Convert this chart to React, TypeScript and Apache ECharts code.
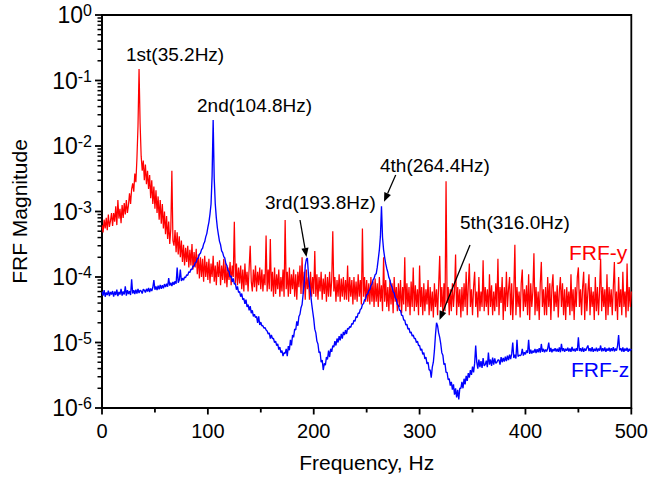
import React, { useEffect, useRef } from "react";
import * as echarts from "echarts";

// FRF magnitude, one value per Hz (index = frequency in Hz)
const frfY = [
  62e-5,48e-5,75e-5,55e-5,80e-5,52e-5,90e-5,58e-5,72e-5,95e-5,
  60e-5,95e-5,70e-5,120e-5,62e-5,150e-5,78e-5,110e-5,66e-5,125e-5,
  80e-5,135e-5,90e-5,150e-5,95e-5,125e-5,190e-5,130e-5,220e-5,270e-5,
  200e-5,380e-5,280e-5,650e-5,2000e-5,15000e-5,2200e-5,700e-5,420e-5,600e-5,
  300e-5,520e-5,260e-5,420e-5,220e-5,360e-5,160e-5,300e-5,130e-5,240e-5,
  110e-5,210e-5,95e-5,170e-5,75e-5,150e-5,65e-5,130e-5,55e-5,100e-5,
  45e-5,85e-5,38e-5,70e-5,32e-5,55e-5,420e-5,36e-5,30e-5,52e-5,
  24e-5,48e-5,22e-5,42e-5,20e-5,36e-5,17e-5,31e-5,15e-5,28e-5,
  17e-5,30e-5,14e-5,26e-5,15e-5,32e-5,13e-5,24e-5,14e-5,27e-5,
  11e-5,22e-5,9.5e-5,20e-5,10e-5,19e-5,8.5e-5,21e-5,10e-5,17e-5,
  9e-5,19e-5,8e-5,16e-5,10e-5,21e-5,8.5e-5,15e-5,7.5e-5,17e-5,
  10e-5,18e-5,7.5e-5,15e-5,9e-5,19e-5,8e-5,16e-5,7e-5,14e-5,
  9e-5,17e-5,7.5e-5,15e-5,10e-5,70e-5,8e-5,16e-5,7.5e-5,14e-5,
  8e-5,15e-5,6.5e-5,13e-5,6e-5,16e-5,7.5e-5,12e-5,6e-5,14e-5,
  30e-5,8.5e-5,6e-5,13e-5,7e-5,15e-5,6e-5,12e-5,7.5e-5,14e-5,
  6.5e-5,13e-5,6e-5,11e-5,7.5e-5,43e-5,6e-5,13e-5,6.5e-5,38e-5,
  6e-5,12e-5,5e-5,14e-5,5.5e-5,11e-5,6.5e-5,13e-5,5e-5,10e-5,
  6e-5,13e-5,5e-5,74e-5,6.5e-5,12e-5,5e-5,14e-5,5.5e-5,11e-5,
  6.5e-5,13e-5,5e-5,11e-5,4.5e-5,12e-5,7e-5,15e-5,5.5e-5,20e-5,
  5.5e-5,12e-5,4.5e-5,13e-5,6.5e-5,10e-5,4.5e-5,12e-5,5e-5,10e-5,
  5.5e-5,25e-5,5e-5,11e-5,4.5e-5,10e-5,6e-5,12e-5,4.5e-5,9.5e-5,
  5.5e-5,11e-5,4.2e-5,10e-5,5e-5,12e-5,5e-5,9e-5,50e-5,6e-5,
  10e-5,4.2e-5,9e-5,5e-5,11e-5,4.2e-5,9.5e-5,5e-5,10e-5,4.5e-5,
  9e-5,4.5e-5,15e-5,4.2e-5,10e-5,5e-5,9e-5,3.8e-5,10e-5,4.5e-5,
  8.5e-5,4.2e-5,11e-5,5e-5,9e-5,3.8e-5,55e-5,5e-5,10e-5,4.2e-5,
  9e-5,4.2e-5,8e-5,3.8e-5,10e-5,4.2e-5,8.5e-5,3.5e-5,9.5e-5,4.2e-5,
  8e-5,3.5e-5,10e-5,4.2e-5,7.5e-5,3e-5,20e-5,4.2e-5,9e-5,3.5e-5,
  7e-5,3e-5,9e-5,3.8e-5,8e-5,2.8e-5,10e-5,4.2e-5,7e-5,3e-5,
  8e-5,3.5e-5,9e-5,2.8e-5,7e-5,3.8e-5,20e-5,3e-5,8e-5,3.5e-5,
  7e-5,2.6e-5,8.5e-5,3.5e-5,14e-5,3e-5,7.5e-5,3.5e-5,6.5e-5,2.6e-5,
  15e-5,3.5e-5,7e-5,2.6e-5,8e-5,3e-5,6.5e-5,3.8e-5,9e-5,2.6e-5,
  7e-5,3e-5,6e-5,2.4e-5,8e-5,3.5e-5,6.5e-5,2.6e-5,7.5e-5,21e-5,
  3.5e-5,7e-5,2.6e-5,8e-5,3e-5,290e-5,4e-5,7e-5,2.6e-5,6.5e-5,
  3e-5,8e-5,3.5e-5,6e-5,22e-5,2.6e-5,7e-5,3.5e-5,6.5e-5,2.4e-5,
  7e-5,3e-5,8e-5,3.5e-5,12e-5,2.6e-5,7.5e-5,16e-5,3.5e-5,6.5e-5,
  2.6e-5,7e-5,12e-5,3.5e-5,6e-5,2.4e-5,10e-5,3e-5,6e-5,3.5e-5,
  18e-5,3e-5,7e-5,3.5e-5,6.5e-5,2.6e-5,11e-5,3.5e-5,7.5e-5,2.6e-5,
  6e-5,3e-5,8e-5,3.5e-5,19e-5,2.6e-5,7e-5,4e-5,10e-5,2.2e-5,
  7e-5,3e-5,12e-5,3.5e-5,6.5e-5,10e-5,2.6e-5,8e-5,2.2e-5,6e-5,
  31e-5,2.6e-5,7e-5,3.5e-5,6e-5,2.4e-5,8e-5,13e-5,3e-5,6.5e-5,
  3.5e-5,7.5e-5,2.6e-5,11e-5,2.2e-5,8e-5,3.5e-5,6e-5,23e-5,2.6e-5,
  7e-5,3e-5,6e-5,2.2e-5,8e-5,17e-5,3.5e-5,6.5e-5,2.6e-5,7e-5,
  2.6e-5,10e-5,3.5e-5,8e-5,2.2e-5,7e-5,11e-5,3e-5,6e-5,3.5e-5,
  7.5e-5,2.4e-5,6e-5,10e-5,3.5e-5,8e-5,2.6e-5,6.5e-5,2.2e-5,7e-5,
  3.5e-5,6e-5,2.6e-5,11e-5,3e-5,6.5e-5,2.2e-5,7e-5,3.5e-5,10e-5,
  14e-5,3.5e-5,6.5e-5,2.6e-5,7e-5,12e-5,2.2e-5,8e-5,3e-5,6e-5,
  11e-5,2.6e-5,7e-5,3.5e-5,6e-5,2.2e-5,10e-5,3e-5,7e-5,2.6e-5,
  6e-5,19e-5,3e-5,7e-5,3.5e-5,6.5e-5,2.2e-5,11e-5,2.6e-5,7e-5,
  3.5e-5,6.5e-5,2.6e-5,7e-5,17e-5,3e-5,6e-5,2.2e-5,10e-5,3.5e-5,
  6.5e-5,2.6e-5,12e-5,3.5e-5,6e-5,2.4e-5,16e-5,3e-5,7e-5,3.5e-5,
  6e-5,
];

const frfZ = [
  60e-6,52e-6,63e-6,50e-6,58e-6,53e-6,62e-6,51e-6,59e-6,54e-6,
  61e-6,50e-6,60e-6,53e-6,64e-6,51e-6,59e-6,54e-6,66e-6,52e-6,
  60e-6,54e-6,72e-6,52e-6,63e-6,55e-6,61e-6,53e-6,92e-6,56e-6,
  63e-6,55e-6,64e-6,56e-6,66e-6,57e-6,63e-6,61e-6,56e-6,65e-6,
  63e-6,58e-6,66e-6,60e-6,68e-6,59e-6,67e-6,61e-6,69e-6,90e-6,
  64e-6,72e-6,63e-6,74e-6,65e-6,76e-6,66e-6,75e-6,67e-6,78e-6,
  70e-6,79e-6,71e-6,96e-6,74e-6,82e-6,73e-6,84e-6,76e-6,86e-6,
  79e-6,140e-6,82e-6,90e-6,130e-6,87e-6,96e-6,89e-6,100e-6,98e-6,
  108e-6,106e-6,120e-6,117e-6,132e-6,130e-6,148e-6,145e-6,165e-6,168e-6,
  190e-6,196e-6,222e-6,230e-6,262e-6,275e-6,318e-6,345e-6,410e-6,460e-6,
  570e-6,690e-6,910e-6,1300e-6,3500e-6,25000e-6,3200e-6,1300e-6,800e-6,560e-6,
  440e-6,350e-6,310e-6,250e-6,235e-6,205e-6,195e-6,160e-6,150e-6,125e-6,
  122e-6,100e-6,104e-6,84e-6,95e-6,78e-6,79e-6,64e-6,72e-6,58e-6,
  60e-6,50e-6,56e-6,45e-6,47e-6,39e-6,45e-6,35e-6,38e-6,31e-6,
  36e-6,28e-6,31e-6,25e-6,27e-6,24e-6,25e-6,20e-6,25e-6,18.5e-6,
  20.5e-6,18e-6,18e-6,16.5e-6,17e-6,15.5e-6,15e-6,13.5e-6,14e-6,11.5e-6,
  13e-6,11.5e-6,11.5e-6,10e-6,10.5e-6,9e-6,9.5e-6,7.8e-6,8.5e-6,7e-6,
  7.5e-6,6.2e-6,7e-6,6.8e-6,8e-6,6.2e-6,8.8e-6,7.6e-6,11e-6,9e-6,
  13e-6,12e-6,16e-6,15.5e-6,21e-6,18e-6,25e-6,27e-6,34e-6,38e-6,
  55e-6,80e-6,150e-6,185e-6,195e-6,110e-6,75e-6,57e-6,40e-6,30e-6,
  23e-6,16e-6,14e-6,10.5e-6,9.5e-6,7e-6,7.2e-6,5e-6,5.4e-6,3.8e-6,
  4.8e-6,4.5e-6,6e-6,5.5e-6,7.5e-6,6e-6,8e-6,7.2e-6,9e-6,8.5e-6,
  10.5e-6,9e-6,11.5e-6,10e-6,12.5e-6,10.8e-6,13.5e-6,11.5e-6,14.5e-6,13e-6,
  15.5e-6,13.5e-6,16.5e-6,16e-6,17.5e-6,17e-6,19.5e-6,19e-6,22e-6,21e-6,
  25e-6,24e-6,28e-6,28e-6,32e-6,33e-6,38e-6,39e-6,45e-6,46e-6,
  54e-6,55e-6,62e-6,64e-6,74e-6,78e-6,90e-6,95e-6,108e-6,112e-6,
  140e-6,190e-6,260e-6,420e-6,1200e-6,400e-6,260e-6,200e-6,160e-6,135e-6,
  118e-6,98e-6,90e-6,76e-6,70e-6,60e-6,57e-6,48e-6,46e-6,38e-6,
  37e-6,31e-6,31e-6,26e-6,26e-6,22e-6,22e-6,18.5e-6,19e-6,16e-6,
  16.5e-6,14e-6,14.5e-6,12.5e-6,13e-6,11.5e-6,11.5e-6,10e-6,10.5e-6,9e-6,
  9e-6,7.6e-6,8e-6,6.6e-6,7e-6,5.6e-6,6e-6,4.7e-6,5e-6,3.8e-6,
  3.8e-6,2.9e-6,4.2e-6,5e-6,7.5e-6,13e-6,20e-6,18e-6,14e-6,12e-6,
  9.5e-6,7e-6,6.4e-6,4.6e-6,4.8e-6,3.5e-6,3.5e-6,2.7e-6,2.8e-6,2.2e-6,
  2.5e-6,1.9e-6,2.3e-6,1.6e-6,2e-6,1.45e-6,1.9e-6,1.35e-6,2e-6,2e-6,
  2.5e-6,2e-6,2.8e-6,2.3e-6,3.1e-6,2.6e-6,3.4e-6,2.9e-6,3.8e-6,3.2e-6,
  4.3e-6,3.5e-6,4.8e-6,9e-6,5e-6,4e-6,5.5e-6,4.2e-6,5.2e-6,4.1e-6,
  5.8e-6,4.4e-6,4.6e-6,5.3e-6,4.2e-6,7e-6,4.6e-6,5.5e-6,4.4e-6,5.9e-6,
  4.6e-6,5.7e-6,4.8e-6,5e-6,5.4e-6,5.4e-6,4.6e-6,6e-6,5e-6,5.8e-6,
  5.1e-6,6.1e-6,5.2e-6,6.3e-6,5.4e-6,6.5e-6,5.6e-6,6.7e-6,10e-6,5.8e-6,
  6.5e-6,5.7e-6,11e-6,6.1e-6,6.4e-6,6.3e-6,6.5e-6,8e-6,6.3e-6,7.1e-6,
  6.6e-6,7.6e-6,6.9e-6,11e-6,6.7e-6,7.8e-6,6.8e-6,7.5e-6,7e-6,8e-6,
  6.9e-6,7.9e-6,7.1e-6,8.2e-6,7e-6,9.5e-6,7.2e-6,8e-6,7.1e-6,7.8e-6,
  7.3e-6,8.1e-6,10e-6,7.2e-6,8.3e-6,7.1e-6,7.9e-6,7.4e-6,8.2e-6,7.3e-6,
  8e-6,7.2e-6,8.4e-6,7.1e-6,9.5e-6,7.4e-6,8.2e-6,7.2e-6,8e-6,7.5e-6,
  8.3e-6,7.3e-6,8.1e-6,7.2e-6,8.6e-6,7.4e-6,8e-6,7.3e-6,8.2e-6,7.5e-6,
  12e-6,7.4e-6,8.2e-6,7.3e-6,8.4e-6,7.2e-6,8.1e-6,7.5e-6,8.3e-6,9e-6,
  7.4e-6,8.2e-6,7.3e-6,8.5e-6,7.2e-6,8e-6,7.4e-6,8.3e-6,7.3e-6,8.1e-6,
  7.5e-6,9e-6,7.3e-6,8.2e-6,7.4e-6,8.4e-6,7.2e-6,8.1e-6,7.5e-6,8.3e-6,
  7.3e-6,8.2e-6,7.4e-6,8.5e-6,7.3e-6,8.1e-6,7.5e-6,8.9e-6,13e-6,7.6e-6,
  8.2e-6,7.3e-6,8.4e-6,7.2e-6,8.1e-6,7.5e-6,8.3e-6,7.2e-6,8e-6,7.4e-6,
  8e-6,
];

const seriesNames = ["FRF-y", "FRF-z"];
const seriesColors = ["#ff0000", "#0000ff"];
const xTickValues = [0, 100, 200, 300, 400, 500];
const xMinorTickValues = [50, 150, 250, 350, 450];
const yTickValues = [1e-6, 1e-5, 1e-4, 1e-3, 1e-2, 1e-1, 1];
const yTickExponents = ["-6", "-5", "-4", "-3", "-2", "-1", "0"];
const yMinorMultipliers = [2, 3, 4, 5, 6, 7, 8, 9];
const peakLabels = ["1st(35.2Hz)", "2nd(104.8Hz)", "3rd(193.8Hz)", "4th(264.4Hz)", "5th(316.0Hz)"];
const xAxisTitle = "Frequency, Hz";
const yAxisTitle = "FRF Magnitude";

const FONT = '"Liberation Sans", Arial, Helvetica, sans-serif';

function arrow(x1: number, y1: number, x2: number, y2: number) {
  const dx = x2 - x1, dy = y2 - y1;
  const len = Math.sqrt(dx * dx + dy * dy);
  const ux = dx / len, uy = dy / len;
  const hl = 9, hw = 3.6;
  const bx = x2 - ux * hl, by = y2 - uy * hl;
  return [
    { type: "line", shape: { x1, y1, x2: bx, y2: by }, style: { stroke: "#000", lineWidth: 1.3 }, z: 100 },
    {
      type: "polygon",
      shape: { points: [[x2, y2], [bx - uy * hw, by + ux * hw], [bx + uy * hw, by - ux * hw]] },
      style: { fill: "#000" },
      z: 100,
    },
  ];
}

function label(text: string, x: number, y: number, color: string, size: number) {
  return {
    type: "text",
    x,
    y,
    z: 100,
    style: { text, fill: color, fontSize: size, fontFamily: FONT, align: "left", verticalAlign: "middle" },
  };
}

function tick(x1: number, y1: number, x2: number, y2: number, w: number) {
  return { type: "line", shape: { x1, y1, x2, y2 }, style: { stroke: "#000", lineWidth: w }, z: 100 };
}

export default function App() {
  const ref = useRef<HTMLDivElement>(null);
  useEffect(() => {
    if (!ref.current) return;
    const chart = echarts.init(ref.current, undefined, { renderer: "svg" });
    const minorValues: number[] = [];
    for (let i = 0; i < yTickValues.length - 1; i++) {
      for (const m of yMinorMultipliers) minorValues.push(m * yTickValues[i]);
    }
    const axisLineStyle = { color: "#000", width: 1.8 };
    chart.setOption({
      animation: false,
      backgroundColor: "#fff",
      grid: {
        left: 102, right: 19, top: 15, bottom: 71,
        show: true, borderColor: "#000", borderWidth: 1.8, backgroundColor: "transparent",
      },
      xAxis: {
        type: "value", min: 0, max: 500, interval: 100,
        name: xAxisTitle, nameLocation: "middle", nameGap: 44,
        nameTextStyle: { fontSize: 21, fontFamily: FONT, color: "#000" },
        axisLine: { show: true, lineStyle: axisLineStyle },
        axisTick: { show: false },
        minorTick: { show: false },
        splitLine: { show: false },
        axisLabel: {
          fontSize: 20, fontFamily: FONT, color: "#000", margin: 13,
          customValues: xTickValues,
        },
      },
      yAxis: {
        type: "log", logBase: 10, min: 1e-6, max: 1,
        name: yAxisTitle, nameLocation: "middle", nameGap: 72,
        nameTextStyle: { fontSize: 21, fontFamily: FONT, color: "#000" },
        axisLine: { show: true, lineStyle: axisLineStyle },
        axisTick: { show: false },
        splitLine: { show: false },
        axisLabel: {
          margin: 10,
          formatter: (v: number) => {
            let idx = 0, best = Infinity;
            yTickValues.forEach((t, i) => {
              const d = Math.abs(Math.log10(t) - Math.log10(v));
              if (d < best) { best = d; idx = i; }
            });
            return `{b|10}{s|${yTickExponents[idx]}}`;
          },
          rich: {
            b: { fontSize: 23, fontFamily: FONT, color: "#000", lineHeight: 25 },
            s: { fontSize: 16, fontFamily: FONT, color: "#000", verticalAlign: "top", lineHeight: 16 },
          },
        },
      },
      series: [
        {
          name: seriesNames[0], type: "line", showSymbol: false, symbol: "none",
          data: frfY.map((v, i) => [i, v]),
          lineStyle: { color: seriesColors[0], width: 1.25 }, z: 2,
        },
        {
          name: seriesNames[1], type: "line", showSymbol: false, symbol: "none",
          data: frfZ.map((v, i) => [i, v]),
          lineStyle: { color: seriesColors[1], width: 1.35 }, z: 3,
        },
      ],
    });

    // axis ticks positioned through the axis scales
    const xLeft = Number(chart.convertToPixel({ xAxisIndex: 0 }, 0));
    const yBottom = Number(chart.convertToPixel({ yAxisIndex: 0 }, yTickValues[0]));
    const ticks: any[] = [];
    yTickValues.forEach((v) => {
      const y = Number(chart.convertToPixel({ yAxisIndex: 0 }, v));
      ticks.push(tick(xLeft - 7, y, xLeft, y, 1.8));
    });
    minorValues.forEach((v) => {
      const y = Number(chart.convertToPixel({ yAxisIndex: 0 }, v));
      ticks.push(tick(xLeft - 4.5, y, xLeft, y, 1.5));
    });
    xTickValues.forEach((v) => {
      const x = Number(chart.convertToPixel({ xAxisIndex: 0 }, v));
      ticks.push(tick(x, yBottom, x, yBottom + 6.5, 1.8));
    });
    xMinorTickValues.forEach((v) => {
      const x = Number(chart.convertToPixel({ xAxisIndex: 0 }, v));
      ticks.push(tick(x, yBottom, x, yBottom + 4.5, 1.8));
    });

    chart.setOption({
      graphic: [
        label(peakLabels[0], 126, 54, "#000", 19),
        label(peakLabels[1], 197, 105, "#000", 19),
        label(peakLabels[2], 265, 202, "#000", 19),
        label(peakLabels[3], 380, 165, "#000", 19),
        label(peakLabels[4], 460, 222, "#000", 19),
        label(seriesNames[0], 569, 252, seriesColors[0], 21),
        label(seriesNames[1], 571, 369, seriesColors[1], 21),
        ...arrow(300, 220, 306.5, 257),
        ...arrow(395.7, 175, 384, 201.7),
        ...arrow(470, 245, 439.5, 320),
        ...ticks,
      ],
    });
    return () => chart.dispose();
  }, []);
  return (
    <div
      ref={ref}
      style={{ position: "fixed", left: 0, top: 0, width: 651, height: 479, background: "#fff" }}
    />
  );
}
